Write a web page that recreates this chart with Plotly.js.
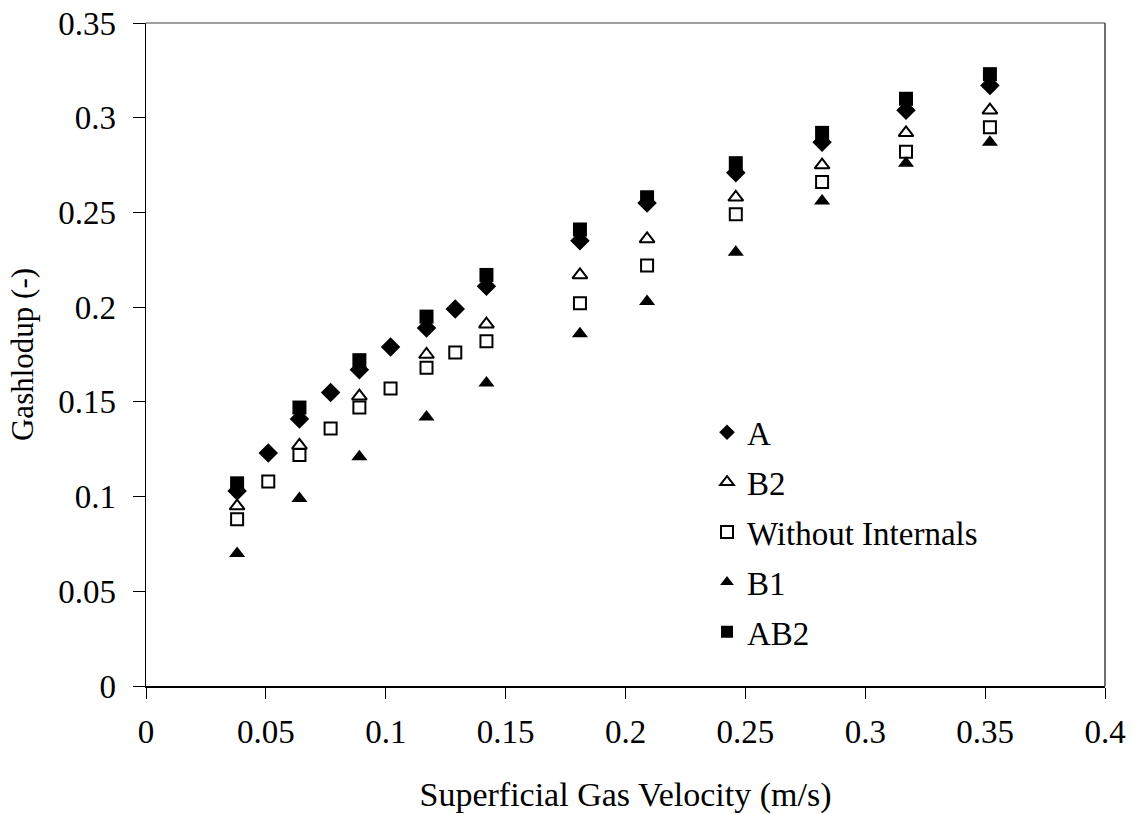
<!DOCTYPE html>
<html><head><meta charset="utf-8">
<script src="https://cdn.plot.ly/plotly-3.0.1.min.js"></script>
<style>body{margin:0;background:#fff}#chart{width:1133px;height:814px}</style>
</head><body><div id="chart"></div>
<script>
const xA = [0.038, 0.051, 0.064, 0.077, 0.089, 0.102, 0.117, 0.129, 0.142, 0.181, 0.209, 0.246, 0.282, 0.317, 0.352];
const yA = [0.103, 0.123, 0.141, 0.155, 0.167, 0.179, 0.189, 0.199, 0.211, 0.235, 0.255, 0.271, 0.287, 0.304, 0.317];
const xB2 = [0.038, 0.064, 0.089, 0.117, 0.142, 0.181, 0.209, 0.246, 0.282, 0.317, 0.352];
const yB2 = [0.095, 0.127, 0.153, 0.175, 0.191, 0.217, 0.236, 0.258, 0.275, 0.292, 0.304];
const xWI = [0.038, 0.051, 0.064, 0.077, 0.089, 0.102, 0.117, 0.129, 0.142, 0.181, 0.209, 0.246, 0.282, 0.317, 0.352];
const yWI = [0.088, 0.108, 0.122, 0.136, 0.147, 0.157, 0.168, 0.176, 0.182, 0.202, 0.222, 0.249, 0.266, 0.282, 0.295];
const xB1 = [0.038, 0.064, 0.089, 0.117, 0.142, 0.181, 0.209, 0.246, 0.282, 0.317, 0.352];
const yB1 = [0.070, 0.099, 0.121, 0.142, 0.160, 0.186, 0.203, 0.229, 0.256, 0.276, 0.287];
const xAB2 = [0.038, 0.064, 0.089, 0.117, 0.142, 0.181, 0.209, 0.246, 0.282, 0.317, 0.352];
const yAB2 = [0.107, 0.147, 0.172, 0.195, 0.217, 0.241, 0.258, 0.276, 0.292, 0.310, 0.323];
const names = ["A", "B2", "Without Internals", "B1", "AB2"];

const fam = "Liberation Serif";
const tickFont = {family: fam, size: 33, color: "#000"};
const xTitleFont = {family: fam, size: 34, color: "#000"};
const yTitleFont = {family: fam, size: 31, color: "#000"};
const legFont = {family: fam, size: 33, color: "#000"};
function tr(x, y, name, symbol, size, open) {
  return {
    x: x, y: y, name: name, type: "scatter", mode: "markers", legendgroup: name,
    marker: {symbol: symbol, size: size, color: open ? "#fff" : "#000",
             line: {color: "#000", width: open ? 2 : 0}}
  };
}
const data = [
  tr(xA, yA, names[0], "diamond", 15, false),
  tr(xB2, yB2, names[1], "triangle-up", 13, true),
  tr(xWI, yWI, names[2], "square", 12, true),
  tr(xB1, yB1, names[3], "triangle-up", 14, false),
  tr(xAB2, yAB2, names[4], "square", 14, false)
];
const layout = {
  width: 1133, height: 814,
  margin: {l: 146, r: 28, t: 23, b: 128},
  paper_bgcolor: "#fff", plot_bgcolor: "#fff",
  font: tickFont,
  showlegend: true,
  legend: {x: 0.585, y: 0.425, xanchor: "left", yanchor: "top", font: legFont,
           tracegroupgap: 4, itemsizing: "constant", bgcolor: "rgba(0,0,0,0)"},
  xaxis: {range: [0, 0.4], dtick: 0.05, tick0: 0, showgrid: false, zeroline: false,
          showline: true, linecolor: "#000", linewidth: 1.5, ticks: "outside", ticklen: 11,
          tickcolor: "#000", tickfont: tickFont, ticklabelstandoff: 5,
          title: {text: "Superficial Gas Velocity (m/s)", font: xTitleFont, standoff: 40}},
  yaxis: {range: [0, 0.35], dtick: 0.05, tick0: 0, showgrid: false, zeroline: false,
          showline: true, linecolor: "#000", linewidth: 1.5, ticks: "outside", ticklen: 12,
          tickcolor: "#000", tickfont: tickFont, ticklabelstandoff: 10,
          title: {text: "Gashlodup (-)", font: yTitleFont, standoff: 15}},
  shapes: [
    {type: "line", xref: "paper", yref: "paper", x0: 0, x1: 1, y0: 1, y1: 1,
     line: {color: "#808080", width: 1.5}},
    {type: "line", xref: "paper", yref: "paper", x0: 1, x1: 1, y0: 0, y1: 1,
     line: {color: "#404040", width: 1.5}}
  ]
};
Plotly.newPlot("chart", data, layout, {displayModeBar: false, staticPlot: true});
</script>
</body></html>
